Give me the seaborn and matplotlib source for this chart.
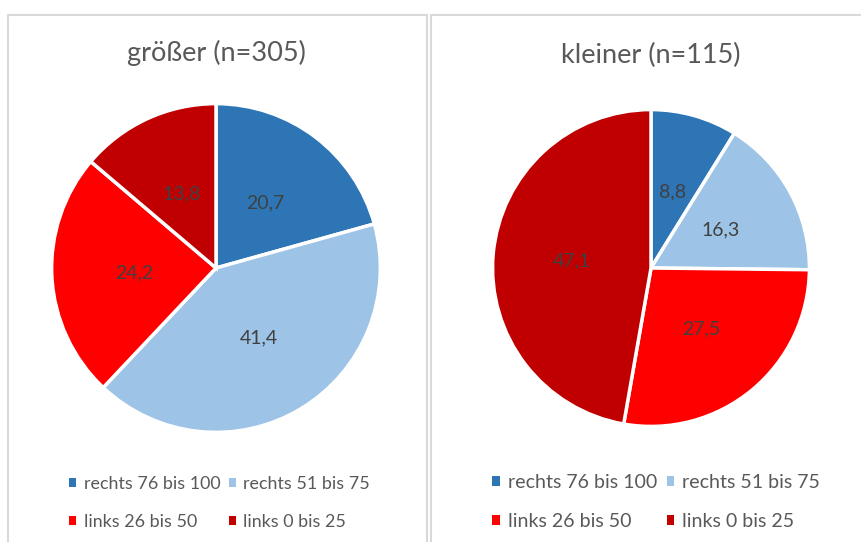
import matplotlib
matplotlib.use('Agg')
import matplotlib.pyplot as plt
from matplotlib.patches import Patch, Rectangle
import seaborn as sns

# data
categories = ['rechts 76 bis 100', 'rechts 51 bis 75', 'links 26 bis 50', 'links 0 bis 25']
groesser_values = [20.7, 41.4, 24.2, 13.8]
kleiner_values = [8.8, 16.3, 27.5, 47.1]
titles = ['größer (n=305)', 'kleiner (n=115)']
slice_colors = ['#2E75B6', '#9DC3E6', '#FF0000', '#C00000']

sns.set_theme(style='white')
plt.rcParams['font.family'] = ['Lato', 'DejaVu Sans']
palette = sns.color_palette(slice_colors)

W, H = 861, 542
fig = plt.figure(figsize=(W / 100, H / 100), dpi=100)

# panel frames
for x0, x1 in [(8, 427), (431, 870)]:
    fig.add_artist(Rectangle((x0 / W, -0.05), (x1 - x0) / W, (H - 15) / H + 0.05,
                             transform=fig.transFigure, fill=False,
                             edgecolor='#d9d9d9', linewidth=1.5))


def fmt(v):
    return f'{v:.1f}'.replace('.', ',')


panels = [
    dict(values=groesser_values, cx=216, cy=268, r=166, title_y=53,
         leg_x=62, leg_y=469, leg_fs=12.9, leg_sp=1.2),
    dict(values=kleiner_values, cx=651, cy=268, r=160, title_y=55,
         leg_x=484, leg_y=466, leg_fs=14.1, leg_sp=1.12),
]

for p, title in zip(panels, titles):
    ax = fig.add_axes([(p['cx'] - p['r']) / W, (H - p['cy'] - p['r']) / H,
                       2 * p['r'] / W, 2 * p['r'] / H])
    ax.pie(p['values'], labels=[fmt(v) for v in p['values']], colors=palette,
           startangle=90, counterclock=False, labeldistance=0.5,
           wedgeprops=dict(edgecolor='white', linewidth=2.5),
           textprops=dict(color='#404040', fontsize=14, ha='center', va='center'))
    ax.set_xlim(-1.01, 1.01)
    ax.set_ylim(-1.01, 1.01)
    ax.set_aspect('equal')

    fig.text(p['cx'] / W, 1 - p['title_y'] / H, title, ha='center', va='center',
             fontsize=19.5, color='#595959')

    handles = [Patch(facecolor=c, edgecolor='none') for c in palette]
    order = [0, 2, 1, 3]
    fig.legend([handles[i] for i in order], [categories[i] for i in order],
               ncol=2, loc='upper left',
               bbox_to_anchor=(p['leg_x'] / W, 1 - p['leg_y'] / H),
               frameon=False, fontsize=p['leg_fs'], labelcolor='#595959',
               handlelength=0.4, handleheight=0.4, handletextpad=0.4,
               columnspacing=0.5, labelspacing=p['leg_sp'], borderaxespad=0)

fig.savefig('out.png', dpi=100, facecolor='white')
